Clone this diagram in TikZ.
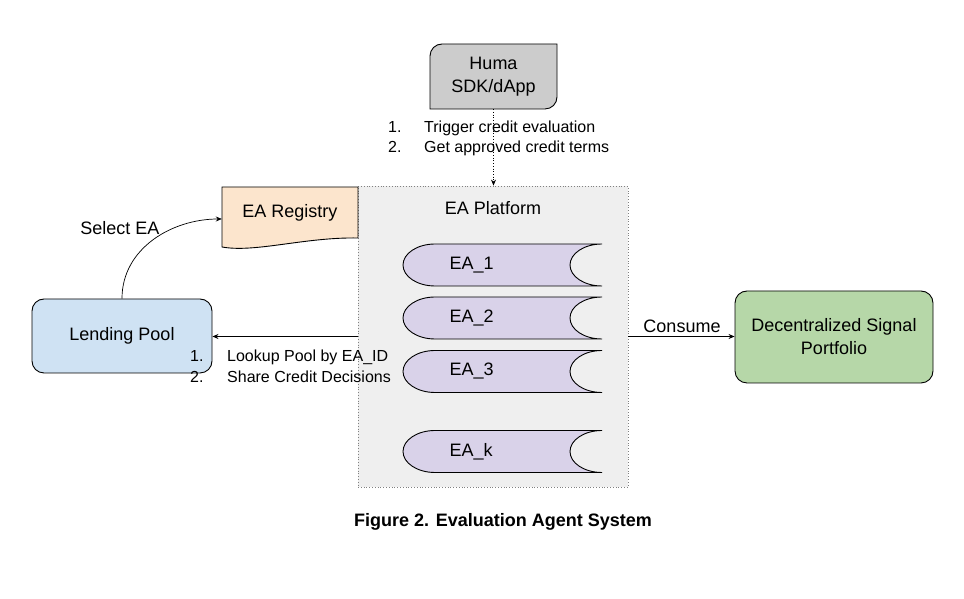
\documentclass[tikz,border=0pt]{standalone}
\usepackage{fontspec}
\setmainfont{Liberation Sans}
\usetikzlibrary{arrows.meta, positioning, calc}
\definecolor{humagray}{HTML}{CCCCCC}
\definecolor{platgray}{HTML}{EFEFEF}
\definecolor{regorange}{HTML}{FCE5CD}
\definecolor{agentpurple}{HTML}{D9D2E9}
\definecolor{poolblue}{HTML}{CFE2F3}
\definecolor{signalgreen}{HTML}{B6D7A8}

\begin{document}
\begin{tikzpicture}[x=1pt, y=1pt, font=\fontsize{18}{23}\selectfont,
      box/.style={rectangle, rounded corners=12pt, draw, line width=0.9pt, minimum width=180pt, minimum height=74pt, align=center},
      agent/.style={draw, line width=0.9pt, fill=agentpurple},
      note/.style={font=\fontsize{16}{20}\selectfont, anchor=west, inner sep=0pt},
      arr/.style={-{Stealth[length=6pt, width=5pt]}, line width=0.7pt}]

      \useasboundingbox (0,0) rectangle (964,599);

      % EA platform
      \node[draw=gray, dotted, line width=0.8pt, fill=platgray, minimum width=270pt, minimum height=301pt] (plat) at (493,262.5) {};
      \node (plattitle) at (493,391) {EA Platform};

      % Huma SDK
      \draw[fill=humagray, line width=0.9pt] (430,490) -- (430,543) arc[start angle=180, end angle=90, radius=12] -- (557,555) -- (557,502) arc[start angle=0, end angle=-90, radius=12] -- cycle;
      \node[align=center, minimum width=127pt, minimum height=65pt] (huma) at (493.5,522.5) {Huma\\SDK/dApp};

      % EA registry
      \draw[fill=regorange, line width=0.9pt] (222,412) -- (358,412) -- (358,361) .. controls (305,362) and (255,346) .. (222,352) -- cycle;
      \node[minimum width=136pt, minimum height=52pt] (reg) at (290,386) {EA Registry};

      \node[box, fill=poolblue] (lp) at (122,263) {Lending Pool};
      \node[box, fill=signalgreen, minimum width=198pt, minimum height=92pt] (dsp) at (834,262) {Decentralized Signal\\Portfolio};

      % Agents
      \foreach \n/\lbl/\y in {ea1/1/334, ea2/2/281, ea3/3/227.5, eak/k/147.5} {
        \draw[agent] (602,\y+21) -- (435,\y+21) arc[start angle=90, end angle=270, x radius=32, y radius=21] -- (602,\y-21) arc[start angle=270, end angle=90, x radius=32, y radius=21] -- cycle;
        \node[anchor=west] (\n) at (446,\y) {EA\_\lbl};
      }

      % Arrows
      \draw[arr, dotted] (huma.south) -- (huma.south |- plat.north);
      \draw[arr] (plat.west) -- (plat.west -| lp.east);
      \draw[arr] (plat.east) -- (plat.east -| dsp.west);
      \draw[arr] (lp.north) to[out=90, in=180] ([yshift=-6pt]reg.west);

      % Annotations
      \node[note] (trig) at (388,460) {\begin{tabular}{@{}p{36pt}@{}l@{}}1. & Trigger credit evaluation\\ 2. & Get approved credit terms\end{tabular}};
      \node[note, font=\fontsize{16}{21}\selectfont] (look) at (190,231.5) {\begin{tabular}{@{}p{37pt}@{}l@{}}1. & Lookup Pool by EA\_ID\\ 2. & Share Credit Decisions\end{tabular}};
      \node (sel) at (120,371) {Select EA};
      \node (cons) at (682,273) {Consume};

      \node[font=\fontsize{18}{21}\selectfont\bfseries] (cap) at (503,77) {Figure 2. Evaluation Agent System};
    \end{tikzpicture}
\end{document}
